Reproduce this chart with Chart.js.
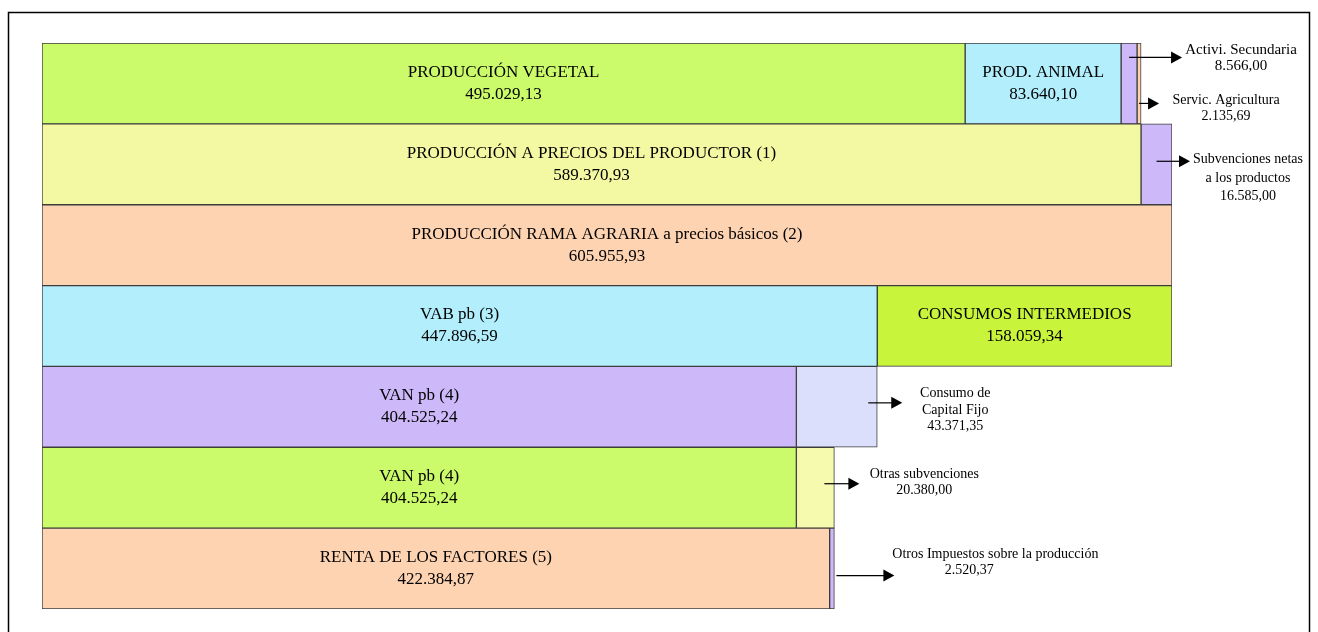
<!DOCTYPE html>
<html lang="es">
<head>
<meta charset="utf-8">
<title>Macromagnitudes agrarias</title>
<script src="https://cdn.jsdelivr.net/npm/chart.js@4/dist/chart.umd.min.js"></script>
<style>
    html, body { margin: 0; background: #FFFFFF; }
    .chart-box { position: relative; width: 1318px; height: 632px; }
</style>
</head>
<body>
<div class="chart-box"><canvas id="cuentas"></canvas></div>
<script>
const rows = [
    "Producción",
    "Producción a precios del productor",
    "Producción rama agraria",
    "VAB / Consumos intermedios",
    "VAN / Consumo de capital fijo",
    "VAN / Otras subvenciones",
    "Renta de los factores"
];

// first block of every row, then the blocks stacked after it
const block1Values = [495029.13, 589370.93, 605955.93, 447896.59, 404525.24, 404525.24, 422384.87];
const block2Values = [83640.10, 16585.00, null, 158059.34, 43371.35, 20380.00, 2520.37];
const block3Values = [8566.00, null, null, null, null, null, null];
const block4Values = [2135.69, null, null, null, null, null, null];

const block1Names = [
    "PRODUCCIÓN VEGETAL",
    "PRODUCCIÓN A PRECIOS DEL PRODUCTOR (1)",
    "PRODUCCIÓN RAMA AGRARIA a precios básicos (2)",
    "VAB pb (3)",
    "VAN pb (4)",
    "VAN pb (4)",
    "RENTA DE LOS FACTORES (5)"
];
const block2Names = [
    "PROD. ANIMAL",
    "Subvenciones netas|a los productos",
    null,
    "CONSUMOS INTERMEDIOS",
    "Consumo de|Capital Fijo",
    "Otras subvenciones",
    "Otros Impuestos sobre la producción"
];
const block3Names = ["Activi. Secundaria", null, null, null, null, null, null];
const block4Names = ["Servic. Agricultura", null, null, null, null, null, null];

(function () {
    const green = "#CBFA6A";
    const limeGreen = "#C8F43C";
    const cyan = "#B2EEFC";
    const lavender = "#CDB9FA";
    const paleLavender = "#DCDFFC";
    const peach = "#FDD3B2";
    const yellow = "#F3F9A2";
    const paleYellow = "#F5FAAE";

    const block1Colors = [green, yellow, peach, cyan, lavender, green, peach];
    const block2Colors = [cyan, lavender, peach, limeGreen, paleLavender, paleYellow, lavender];
    const block3Colors = [lavender, lavender, lavender, lavender, lavender, lavender, lavender];
    const block4Colors = [peach, peach, peach, peach, peach, peach, peach];

    // blocks whose name sits outside the bar, pointed at by an arrow
    // key: "dataset:row"; offsets are from the block end (or the row end), in px
    const callouts = {
        "2:0": { from: "mid", to: 41, toRowEnd: true, ay: -26, tx: 100, lines: [-33, -17], size: 15 },
        "3:0": { from: "mid", to: 18, toRowEnd: true, ay: 20, tx: 85, lines: [17, 33], size: 14 },
        "1:1": { from: "mid", to: 18, ay: -3, tx: 76, lines: [-5, 14, 32], size: 14 },
        "1:4": { from: -9, to: 25, ay: -4, tx: 78, lines: [-14, 3, 19], size: 14 },
        "1:5": { from: -10, to: 25, ay: -4, tx: 90, lines: [-13, 3], size: 14 },
        "1:6": { from: 2, to: 60, ay: 7, tx: 161, valueTx: 135, lines: [-14, 2], size: 14 }
    };

    const serif = "'Liberation Serif', 'Times New Roman', serif";

    function fmt(value) {
        const parts = value.toFixed(2).split(".");
        return parts[0].replace(/\B(?=(\d{3})+(?!\d))/g, ".") + "," + parts[1];
    }

    function rowTotal(index) {
        return [block1Values, block2Values, block3Values, block4Values]
            .reduce((sum, values) => sum + (Number(values[index]) || 0), 0);
    }

    const maxTotal = Math.max(...rows.map((_, i) => rowTotal(i)));

    const frame = {
        id: "frame",
        beforeDraw(chart) {
            const ctx = chart.ctx;
            ctx.save();
            ctx.strokeStyle = "#000000";
            ctx.lineWidth = 1.5;
            ctx.strokeRect(8.5, 12.5, 1301, 700);
            ctx.restore();
        }
    };

    const blockLabels = {
        id: "blockLabels",
        afterDraw(chart) {
            const ctx = chart.ctx;
            const names = [block1Names, block2Names, block3Names, block4Names];
            const values = [block1Values, block2Values, block3Values, block4Values];
            const xScale = chart.scales.x;
            ctx.save();
            ctx.fillStyle = "#000000";
            ctx.textAlign = "center";
            ctx.textBaseline = "middle";
            names.forEach((list, d) => {
                const meta = chart.getDatasetMeta(d);
                list.forEach((name, r) => {
                    const value = values[d][r];
                    if (!name || value == null) {
                        return;
                    }
                    const bar = meta.data[r].getProps(["x", "y", "base"], true);
                    const left = Math.min(bar.x, bar.base);
                    const right = Math.max(bar.x, bar.base);
                    const callout = callouts[d + ":" + r];
                    if (!callout) {
                        ctx.font = "17px " + serif;
                        const cx = (left + right) / 2;
                        ctx.fillText(name, cx, bar.y - 11);
                        ctx.fillText(fmt(value), cx, bar.y + 11);
                        return;
                    }
                    const end = callout.toRowEnd ? xScale.getPixelForValue(rowTotal(r)) : right;
                    const x0 = callout.from === "mid" ? (left + right) / 2 : right + callout.from;
                    const x1 = end + callout.to;
                    const ay = bar.y + callout.ay;
                    ctx.strokeStyle = "#000000";
                    ctx.lineWidth = 1.2;
                    ctx.beginPath();
                    ctx.moveTo(x0, ay);
                    ctx.lineTo(x1 - 8, ay);
                    ctx.stroke();
                    ctx.beginPath();
                    ctx.moveTo(x1, ay);
                    ctx.lineTo(x1 - 11, ay - 6);
                    ctx.lineTo(x1 - 11, ay + 6);
                    ctx.closePath();
                    ctx.fill();

                    ctx.font = callout.size + "px " + serif;
                    const lines = name.split("|").concat(fmt(value));
                    lines.forEach((line, k) => {
                        const isValue = k === lines.length - 1;
                        const tx = end + (isValue && callout.valueTx ? callout.valueTx : callout.tx);
                        ctx.fillText(line, tx, bar.y + callout.lines[k]);
                    });
                });
            });
            ctx.restore();
        }
    };

    function block(values, colors) {
        return {
            data: values,
            backgroundColor: colors,
            borderColor: "#3C3C3C",
            borderWidth: 1,
            borderSkipped: false,
            barPercentage: 1,
            categoryPercentage: 1
        };
    }

    new Chart(document.getElementById("cuentas").getContext("2d"), {
        type: "bar",
        data: {
            labels: rows,
            datasets: [
                block(block1Values, block1Colors),
                block(block2Values, block2Colors),
                block(block3Values, block3Colors),
                block(block4Values, block4Colors)
            ]
        },
        options: {
            indexAxis: "y",
            responsive: true,
            maintainAspectRatio: false,
            animation: false,
            layout: {
                padding: { left: 42, right: 146, top: 43, bottom: 23 }
            },
            scales: {
                x: { stacked: true, display: false, min: 0, max: maxTotal },
                y: { stacked: true, display: false }
            },
            plugins: {
                legend: { display: false },
                tooltip: { enabled: false }
            }
        },
        plugins: [frame, blockLabels]
    });
})();
</script>
</body>
</html>
